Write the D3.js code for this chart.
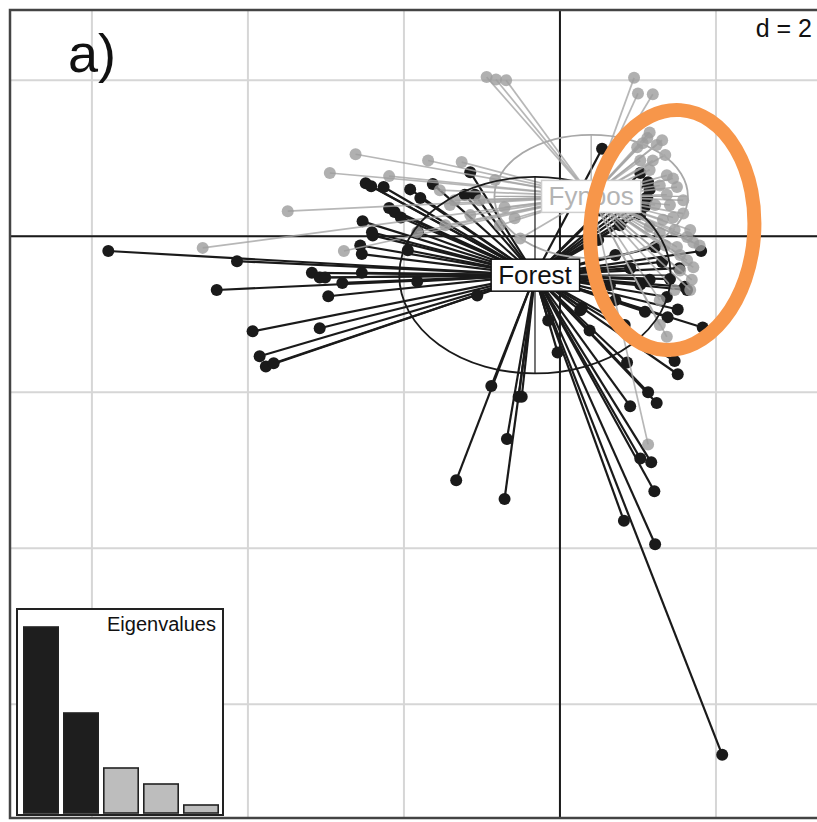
<!DOCTYPE html>
<html>
<head>
<meta charset="utf-8">
<script src="https://cdn.jsdelivr.net/npm/d3@7"></script>
<style>
  body { margin: 0; background: #fff; }
  text { font-family: "Liberation Sans", Arial, sans-serif; }
</style>
</head>
<body>
<svg id="chart" width="817" height="822"></svg>
<script>
// discriminant scores, group Forest (black)
const forestX = [-5.79,-4.14,-4.40,-3.94,-3.08,-3.85,-3.77,-3.67,-3.18,-3.08,-3.01,-2.79,-2.97,-2.54,-1.83,
  -2.56,-2.54,-1.95,-2.41,-2.40,-2.53,-2.19,-2.12,-2.04,-2.49,-2.42,-2.26,-1.92,-1.63,-1.79,-1.15,-1.22,-1.09,
  -1.82,-1.06,-0.88,-0.53,-0.49,-0.68,-1.33,-0.71,-0.03,-0.15,0.26,0.86,1.47,1.51,1.13,1.24,0.90,1.03,1.17,
  1.21,0.82,1.22,2.08,1.81,1.53,1.41,1.60,1.63,1.37,1.51,1.38,1.83,0.54,1.03,1.13,1.15,1.12,1.09,1.03,
  1.22,1.31,1.03,0.71,0.38,0.28,0.49,0.71,0.90,1.15,1.09,0.83,0.64,0.77,0.51];
const forestY = [-0.19,-0.32,-0.69,-1.22,-1.18,-1.54,-1.67,-1.63,-0.47,-0.53,-0.53,-0.60,-0.77,-0.47,-0.58,
  -0.12,-0.23,-0.18,0.05,0.01,0.19,0.36,0.31,0.24,0.68,0.64,0.63,0.60,0.67,0.49,0.82,0.53,0.53,
  0.05,-0.76,-1.92,-2.06,-2.06,-2.60,-3.13,-3.37,-1.49,-1.08,-0.95,-1.62,-1.60,-1.77,-2.00,-2.14,-2.18,-2.85,-2.90,
  -3.27,-3.65,-3.95,-6.65,-0.19,-0.41,-0.55,-0.65,-0.69,-0.78,-0.94,-1.04,-1.17,1.12,0.81,0.69,0.60,0.49,0.38,0.28,
  -0.14,-0.33,-0.62,-0.82,-1.21,-0.92,-0.05,-0.24,-0.41,-0.56,-0.97,-1.14,-0.63,0.14,0.33];

// discriminant scores, group Fynbos (grey)
const fynbosX = [-0.94,-0.82,-0.69,0.95,1.00,1.19,-2.62,-2.95,-2.19,-1.69,-1.26,-0.83,-3.49,-4.58,-2.77,-1.83,
  -1.41,-1.15,-0.77,-0.51,1.12,1.24,1.35,1.19,1.37,1.45,1.50,1.37,1.58,1.58,1.45,1.32,1.67,1.63,1.71,1.50,
  1.63,1.71,1.28,1.15,1.06,0.99,1.54,1.69,1.37,1.13,1.28,
  1.03,1.15,1.28,1.22,1.41,1.47,1.35,1.54,1.79,1.67,1.47,1.28,1.15,1.31,
  -1.54,-1.35,-1.03,-0.71,-0.58,-1.47];
const fynbosY = [2.04,2.01,2.00,2.03,1.83,1.82,1.05,0.81,0.77,0.97,0.95,0.72,0.32,-0.15,-0.19,0.05,
  0.40,0.27,0.14,-0.03,1.26,1.17,1.04,0.97,0.78,0.74,0.63,0.53,0.46,0.29,0.24,0.21,0.08,-0.01,-0.08,-0.14,
  -0.31,-0.40,0.04,0.12,1.19,1.14,-0.24,-0.56,-1.29,-2.67,-1.14,
  0.97,0.85,0.65,0.40,0.40,0.08,-0.12,-0.44,-0.12,-0.69,-0.69,-0.82,1.33,1.23,
  0.59,0.46,0.46,0.37,0.23,0.14];

const groupNames = ["Fynbos", "Forest"];
const centroidX = [0.40, -0.32];
const centroidY = [0.51, -0.50];
const ellipseRx = [1.24, 1.74];
const ellipseRy = [0.79, 1.26];

const eigenvalues = [37.2, 20.0, 9.0, 5.8, 1.6];
const gridTicks = [-6, -4, -2, 0, 2];

// highlighted region (annotation)
const markX = 1.44, markY = 0.08, markRx = 1.05, markRy = 1.54;

const svg = d3.select("#chart");
const pLeft = 10, pTop = 10, pRight = 840, pBottom = 818;

const x = d3.scaleLinear().domain([-7.05, 3.59]).range([pLeft, pRight]);
const y = d3.scaleLinear().domain([-7.46, 2.90]).range([pBottom, pTop]);

svg.append("clipPath").attr("id", "clip")
  .append("rect").attr("x", pLeft).attr("y", pTop).attr("width", pRight - pLeft).attr("height", pBottom - pTop);

const plot = svg.append("g").attr("clip-path", "url(#clip)");

// grid
plot.append("g").selectAll("line").data(gridTicks).join("line")
  .attr("x1", d => x(d)).attr("x2", d => x(d)).attr("y1", pTop).attr("y2", pBottom)
  .attr("stroke", "#d6d6d6").attr("stroke-width", 2);
plot.append("g").selectAll("line").data(gridTicks).join("line")
  .attr("y1", d => y(d)).attr("y2", d => y(d)).attr("x1", pLeft).attr("x2", pRight)
  .attr("stroke", "#d6d6d6").attr("stroke-width", 2);

// axes through origin
plot.append("line").attr("x1", x(0)).attr("x2", x(0)).attr("y1", pTop).attr("y2", pBottom)
  .attr("stroke", "#1a1a1a").attr("stroke-width", 2);
plot.append("line").attr("y1", y(0)).attr("y2", y(0)).attr("x1", pLeft).attr("x2", pRight)
  .attr("stroke", "#1a1a1a").attr("stroke-width", 2);

const forest = forestX.map((v, i) => ({ x: v, y: forestY[i] }));
const fynbos = fynbosX.map((v, i) => ({ x: v, y: fynbosY[i] }));

function drawGroup(data, g, lineColor, lineWidth, dotColor, opacity) {
  const layer = plot.append("g");
  layer.selectAll("line").data(data).join("line")
    .attr("x1", d => x(d.x)).attr("y1", d => y(d.y))
    .attr("x2", x(centroidX[g])).attr("y2", y(centroidY[g]))
    .attr("stroke", lineColor).attr("stroke-width", lineWidth).attr("opacity", opacity);
  layer.selectAll("circle").data(data).join("circle")
    .attr("cx", d => x(d.x)).attr("cy", d => y(d.y)).attr("r", 6)
    .attr("fill", dotColor).attr("opacity", opacity);
}

drawGroup(forest, 1, "#1a1a1a", 2.2, "#1a1a1a", 1);
drawGroup(fynbos, 0, "#a6a6a6", 1.7, "#9c9c9c", 0.8);

// inertia ellipses with their axes
const ellColor = ["#a8a8a8", "#1a1a1a"];
groupNames.forEach((name, g) => {
  plot.append("ellipse")
    .attr("cx", x(centroidX[g])).attr("cy", y(centroidY[g]))
    .attr("rx", x(ellipseRx[g]) - x(0)).attr("ry", y(0) - y(ellipseRy[g]))
    .attr("fill", "none").attr("stroke", ellColor[g]).attr("stroke-width", 1.8);
  plot.append("line")
    .attr("x1", x(centroidX[g])).attr("x2", x(centroidX[g]))
    .attr("y1", y(centroidY[g] + ellipseRy[g])).attr("y2", y(centroidY[g] - ellipseRy[g]))
    .attr("stroke", ellColor[g]).attr("stroke-width", 1.2);
  plot.append("line")
    .attr("x1", x(centroidX[g] - ellipseRx[g])).attr("x2", x(centroidX[g] + ellipseRx[g]))
    .attr("y1", y(centroidY[g])).attr("y2", y(centroidY[g]))
    .attr("stroke", ellColor[g]).attr("stroke-width", 1.2);
});

// group labels
const labColor = ["#b4b4b4", "#111"];
const boxStroke = ["#cfcfcf", "#111"];
groupNames.forEach((name, g) => {
  const cx = x(centroidX[g]), cy = y(centroidY[g]);
  const lab = plot.append("g");
  const t = lab.append("text").attr("x", cx).attr("y", cy + 9)
    .attr("text-anchor", "middle").attr("font-size", 26).attr("fill", labColor[g]).text(name);
  const bb = t.node().getBBox();
  lab.insert("rect", "text")
    .attr("x", bb.x - 7).attr("y", cy - 16).attr("width", bb.width + 14).attr("height", 32)
    .attr("fill", "#fff").attr("stroke", boxStroke[g]).attr("stroke-width", 1.5);
});

// text
plot.append("text").attr("x", 68).attr("y", 72).attr("font-size", 54).attr("fill", "#111").text("a)");
plot.append("text").attr("x", 812).attr("y", 37).attr("text-anchor", "end")
  .attr("font-size", 25).attr("fill", "#111").text("d = 2");

// eigenvalue inset
const inset = svg.append("g");
inset.append("rect").attr("x", 17).attr("y", 609).attr("width", 206).attr("height", 206)
  .attr("fill", "#fff").attr("stroke", "#222").attr("stroke-width", 2);
const bx = d3.scaleBand().domain(eigenvalues.map((d, i) => i)).range([23, 219]).paddingInner(0.14).paddingOuter(0.02);
const by = d3.scaleLinear().domain([0, d3.max(eigenvalues)]).range([813, 627]);
inset.selectAll("rect.bar").data(eigenvalues).join("rect").attr("class", "bar")
  .attr("x", (d, i) => bx(i)).attr("width", bx.bandwidth())
  .attr("y", d => by(d)).attr("height", d => by(0) - by(d))
  .attr("fill", (d, i) => i < 2 ? "#1e1e1e" : "#bdbdbd")
  .attr("stroke", "#222").attr("stroke-width", 1.6);
inset.append("text").attr("x", 216).attr("y", 631).attr("text-anchor", "end")
  .attr("font-size", 20).attr("fill", "#111").text("Eigenvalues");

// frame
svg.append("rect").attr("x", pLeft).attr("y", pTop).attr("width", pRight - pLeft).attr("height", pBottom - pTop)
  .attr("fill", "none").attr("stroke", "#444").attr("stroke-width", 2.5);

// orange highlight
svg.append("ellipse")
  .attr("cx", x(markX)).attr("cy", y(markY))
  .attr("rx", x(markRx) - x(0)).attr("ry", y(0) - y(markRy))
  .attr("transform", `rotate(4, ${x(markX)}, ${y(markY)})`)
  .attr("fill", "none").attr("stroke", "#f7964a").attr("stroke-width", 14);
</script>
</body>
</html>
